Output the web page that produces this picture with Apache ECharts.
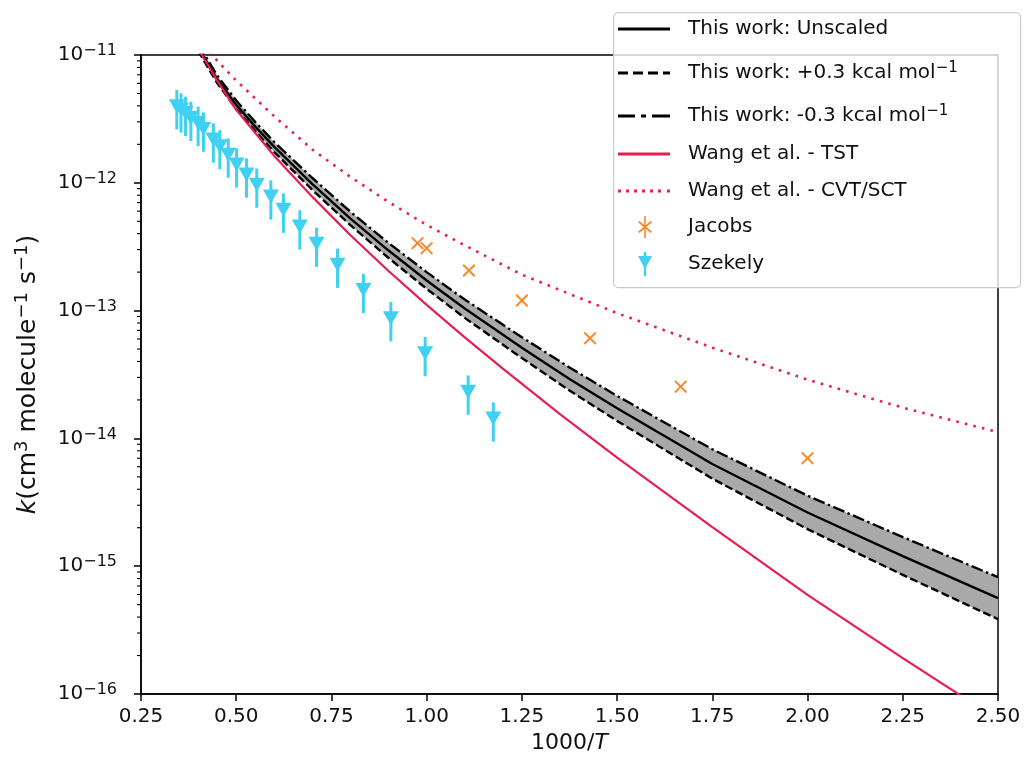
<!DOCTYPE html>
<html>
<head>
<meta charset="utf-8">
<title>k vs 1000/T</title>
<script src="https://cdn.jsdelivr.net/npm/echarts@6.0.0/dist/echarts.min.js"></script>
<style>
  html, body { margin: 0; padding: 0; background: #fff; }
  #chart { width: 1026px; height: 767px; }
</style>
</head>
<body>
<div id="chart"></div>
<script>
// ---- data ----
var xTicks = [0.25, 0.50, 0.75, 1.00, 1.25, 1.50, 1.75, 2.00, 2.25, 2.50];
var yExponents = [-16, -15, -14, -13, -12, -11];

// this work: rate constants on a common 1000/T grid
var calcX = [0.40, 0.45, 0.50, 0.55, 0.60, 0.70, 0.80, 0.90, 1.00, 1.10, 1.25, 1.375, 1.50, 1.75, 2.00, 2.25, 2.50];
var unscaledK = [1.15e-11, 6.46e-12, 4.07e-12, 2.75e-12, 1.91e-12, 9.77e-13, 5.25e-13, 2.95e-13, 1.72e-13,
                 1.04e-13, 5.13e-14, 2.92e-14, 1.72e-14, 6.31e-15, 2.63e-15, 1.20e-15, 5.62e-16];
var plusK = [1.08e-11, 6.03e-12, 3.78e-12, 2.54e-12, 1.74e-12, 8.79e-13, 4.66e-13, 2.58e-13, 1.48e-13,
             8.77e-14, 4.25e-14, 2.37e-14, 1.37e-14, 4.84e-15, 1.95e-15, 8.55e-16, 3.85e-16];
var minusK = [1.22e-11, 6.92e-12, 4.40e-12, 2.99e-12, 2.08e-12, 1.09e-12, 5.92e-13, 3.38e-13, 2.00e-13,
              1.22e-13, 6.19e-14, 3.59e-14, 2.15e-14, 8.22e-15, 3.56e-15, 1.69e-15, 8.20e-16];

// Wang et al.
var tstX = [0.40, 0.45, 0.50, 0.60, 0.70, 0.80, 0.90, 1.00, 1.10, 1.20, 1.35, 1.50, 1.75, 2.00, 2.25, 2.50];
var tstK = [1.12e-11, 6.31e-12, 3.72e-12, 1.62e-12, 7.76e-13, 3.89e-13, 2.04e-13, 1.11e-13, 6.17e-14,
            3.51e-14, 1.55e-14, 7.08e-15, 2.02e-15, 5.96e-16, 1.91e-16, 6.3e-17];
var cvtX = [0.40, 0.45, 0.50, 0.60, 0.70, 0.80, 0.90, 1.00, 1.10, 1.25, 1.50, 1.75, 2.00, 2.25, 2.50];
var cvtK = [1.33e-11, 9.02e-12, 6.31e-12, 3.31e-12, 1.82e-12, 1.11e-12, 7.08e-13, 4.68e-13, 3.24e-13,
            1.91e-13, 9.55e-14, 5.13e-14, 2.88e-14, 1.74e-14, 1.12e-14];

// experiments
var jacobsX = [0.976, 1.000, 1.111, 1.250, 1.429, 1.667, 2.000];
var jacobsK = [3.37e-13, 3.08e-13, 2.06e-13, 1.20e-13, 6.08e-14, 2.54e-14, 7.0e-15];
var szekelyX = [0.344, 0.355, 0.367, 0.381, 0.400, 0.414, 0.440, 0.457, 0.479, 0.501, 0.527,
                0.554, 0.591, 0.624, 0.667, 0.711, 0.766, 0.834, 0.906, 0.996, 1.109, 1.175];
var szekelyK = [3.97e-12, 3.74e-12, 3.52e-12, 3.22e-12, 2.94e-12, 2.65e-12, 2.18e-12, 1.93e-12, 1.66e-12,
                1.39e-12, 1.16e-12, 9.65e-13, 7.80e-13, 6.15e-13, 4.55e-13, 3.33e-13, 2.28e-13, 1.45e-13,
                8.70e-14, 4.64e-14, 2.32e-14, 1.43e-14];
var szekelyRelErr = 0.34;   // error bars are about +-34 %

// ---- styling ----
var FONT = 'DejaVu Sans';
var RED = '#e91e50';
var ORANGE = '#f58b2e';
var CYAN = '#40d0f2';
var NAMES = ['This work: Unscaled', 'This work: +0.3 kcal mol-1', 'This work: -0.3 kcal mol-1',
             'Wang et al. - TST', 'Wang et al. - CVT/SCT', 'Jacobs', 'Szekely'];

function pairs(xs, ys) {
  return xs.map(function (x, i) { return [x, ys[i]]; });
}

var minorTicks = [];
yExponents.slice(0, -1).forEach(function (e) {
  for (var m = 2; m <= 9; m++) minorTicks.push([0.25, m * Math.pow(10, e)]);
});

var xMark = 'path://M0,1.3L1.3,0L6,4.7L10.7,0L12,1.3L7.3,6L12,10.7L10.7,12L6,7.3L1.3,12L0,10.7L4.7,6Z';

function rich(size, supSize, lh, supLh) {
  return {
    n: { fontFamily: FONT, fontSize: size, color: '#111', lineHeight: lh },
    i: { fontFamily: FONT, fontSize: size, color: '#111', lineHeight: lh, fontStyle: 'italic' },
    s: { fontFamily: FONT, fontSize: supSize, color: '#111', lineHeight: supLh, verticalAlign: 'top' }
  };
}
var legendRich = rich(20, 15, 24, 10);

var legendRows = [
  { text: '{n|This work: Unscaled}', icon: 'path://M0,0H52V3H0Z', color: '#000', left: 618, w: 52, h: 3, pad: 13 },
  { text: '{n|This work: +0.3 kcal mol}{s|\u22121}',
    icon: 'path://M0,0H10V3H0Z M15,0H25V3H15Z M30,0H40V3H30Z M45,0H52V3H45Z', color: '#000', left: 618, w: 52, h: 3, pad: 13 },
  { text: '{n|This work: -0.3 kcal mol}{s|\u22121}',
    icon: 'path://M0,0H17V3H0Z M23,0H28V3H23Z M34,0H52V3H34Z', color: '#000', left: 618, w: 52, h: 3, pad: 13 },
  { text: '{n|Wang et al. - TST}', icon: 'path://M0,0H52V3H0Z', color: RED, left: 618, w: 52, h: 3, pad: 13 },
  { text: '{n|Wang et al. - CVT/SCT}',
    icon: 'path://M0,0H3V3H0Z M8,0H11V3H8Z M16,0H19V3H16Z M24,0H27V3H24Z M32,0H35V3H32Z M40,0H43V3H40Z M49,0H52V3H49Z',
    color: RED, left: 618, w: 52, h: 3, pad: 13 },
  { text: '{n|Jacobs}',
    icon: 'path://M1,6.3L2.3,5L7,9.7L11.7,5L13,6.3L8.3,11L13,15.7L11.7,17L7,12.3L2.3,17L1,15.7L5.7,11Z M6.3,0H7.7V22H6.3Z',
    color: ORANGE, left: 638, w: 14, h: 22, pad: 31 },
  { text: '{n|Szekely}', icon: 'path://M0,4H14L7,17Z M5.8,0H8.2V24H5.8Z', color: CYAN, left: 638, w: 14, h: 24, pad: 31 }
];
var rowCenters = [29, 73, 116, 154, 191, 227, 264];

var legends = legendRows.map(function (r, i) {
  return {
    show: true, orient: 'vertical', left: r.left, top: rowCenters[i] - 12,
    padding: 0, itemGap: 0, itemWidth: r.w, itemHeight: r.h, selectedMode: false,
    symbolKeepAspect: false, z: 11,
    data: [{ name: NAMES[i], icon: r.icon, itemStyle: { color: r.color, borderWidth: 0 } }],
    formatter: function () { return r.text; },
    textStyle: { fontFamily: FONT, fontSize: 20, color: '#111', lineHeight: 24,
                 padding: [0, 0, 0, r.pad], rich: legendRich }
  };
});

var chart = echarts.init(document.getElementById('chart'));
var option = {
  animation: false,
  backgroundColor: '#fff',
  textStyle: { fontFamily: FONT },
  grid: { left: 141, right: 28, top: 55, bottom: 73, containLabel: false, outerBoundsMode: 'none',
          show: true, borderColor: '#000', borderWidth: 1.5, backgroundColor: 'transparent' },
  legend: legends,
  graphic: [{
    type: 'rect', left: 613, top: 12, z: 10, silent: true,
    shape: { width: 407, height: 275, r: 5 },
    style: { fill: 'rgba(255,255,255,0.8)', stroke: '#cccccc', lineWidth: 1.2 }
  }],
  xAxis: {
    type: 'value', min: 0.25, max: 2.5, interval: 0.25,
    name: '{n|1000/}{i|T}', nameLocation: 'middle', nameGap: 35,
    nameTextStyle: { rich: rich(22, 16, 26, 12) },
    axisLine: { show: true, onZero: false, lineStyle: { color: '#000', width: 1.5 } },
    axisTick: { show: true, length: 7, lineStyle: { color: '#000', width: 1.5 } },
    axisLabel: { show: true, margin: 13, fontFamily: FONT, fontSize: 20, color: '#111',
                 showMinLabel: true, showMaxLabel: true,
                 formatter: function (v) { return xTicks.indexOf(+v.toFixed(2)) >= 0 ? v.toFixed(2) : ''; } },
    splitLine: { show: false }
  },
  yAxis: {
    type: 'log', logBase: 10, min: 1e-16, max: 1e-11,
    name: '{i|k}{n|(cm}{s|3}{n| molecule}{s|\u22121}{n| s}{s|\u22121}{n|)}',
    nameLocation: 'middle', nameRotate: 90, nameGap: 98,
    nameTextStyle: { rich: rich(25, 18, 30, 14) },
    axisLine: { show: true, lineStyle: { color: '#000', width: 1.5 } },
    axisTick: { show: true, length: 7, lineStyle: { color: '#000', width: 1.5 } },
    axisLabel: { show: true, margin: 24, showMinLabel: true, showMaxLabel: true,
                 formatter: function (v) {
                   var e = Math.round(Math.log10(v));
                   if (yExponents.indexOf(e) < 0) return '';
                   return '{n|10}{s|\u2212' + (-e) + '}';
                 },
                 rich: rich(20, 16, 24, 10) },
    splitLine: { show: false }
  },
  series: [
    {
      // grey band between the +-0.3 kcal/mol curves
      type: 'custom', name: 'band', silent: true, clip: true, z: 1,
      data: [[1, 1e-13]],
      renderItem: function (params, api) {
        var pts = [];
        for (var i = 0; i < calcX.length; i++) pts.push(api.coord([calcX[i], minusK[i]]));
        for (var j = calcX.length - 1; j >= 0; j--) pts.push(api.coord([calcX[j], plusK[j]]));
        return { type: 'polygon', shape: { points: pts }, style: { fill: '#a9a9a9' } };
      }
    },
    { type: 'line', name: NAMES[0], data: pairs(calcX, unscaledK), symbol: 'none', z: 3, silent: true,
      color: '#000', lineStyle: { color: '#000', width: 2.4 } },
    { type: 'line', name: NAMES[1], data: pairs(calcX, plusK), symbol: 'none', z: 3, silent: true,
      color: '#000', lineStyle: { color: '#000', width: 2.4, type: [8, 3.5] } },
    { type: 'line', name: NAMES[2], data: pairs(calcX, minusK), symbol: 'none', z: 3, silent: true,
      color: '#000', lineStyle: { color: '#000', width: 2.4, type: [12, 3.5, 2.5, 3.5] } },
    { type: 'line', name: NAMES[3], data: pairs(tstX, tstK), symbol: 'none', z: 4, silent: true,
      color: RED, lineStyle: { color: RED, width: 2.2 } },
    { type: 'line', name: NAMES[4], data: pairs(cvtX, cvtK), symbol: 'none', z: 4, silent: true,
      color: RED, lineStyle: { color: RED, width: 2.6, type: [2.6, 6.2] } },
    { type: 'scatter', name: NAMES[5], data: pairs(jacobsX, jacobsK), symbol: xMark, symbolSize: 13,
      z: 6, silent: true, itemStyle: { color: ORANGE, borderWidth: 0, opacity: 1 } },
    {
      type: 'custom', name: 'szekely-err', silent: true, z: 5,
      data: szekelyX.map(function (x, i) {
        return [x, szekelyK[i] * (1 - szekelyRelErr), szekelyK[i] * (1 + szekelyRelErr)];
      }),
      encode: { x: 0, y: [1, 2] },
      renderItem: function (params, api) {
        var lo = api.coord([api.value(0), api.value(1)]);
        var hi = api.coord([api.value(0), api.value(2)]);
        return { type: 'line', shape: { x1: lo[0], y1: lo[1], x2: hi[0], y2: hi[1] },
                 style: { stroke: CYAN, lineWidth: 3 } };
      }
    },
    { type: 'scatter', name: NAMES[6], data: pairs(szekelyX, szekelyK), symbol: 'triangle', symbolRotate: 180,
      symbolSize: [16, 14], z: 6, silent: true, itemStyle: { color: CYAN, borderWidth: 0, opacity: 1 } },
    {
      // log minor ticks on the y axis
      type: 'custom', name: 'minor-ticks', silent: true, z: 2,
      data: minorTicks,
      renderItem: function (params, api) {
        var p = api.coord([api.value(0), api.value(1)]);
        var x0 = params.coordSys.x;
        return { type: 'line', shape: { x1: x0 - 4, y1: p[1], x2: x0, y2: p[1] },
                 style: { stroke: '#000', lineWidth: 1.1 } };
      }
    }
  ]
};
chart.setOption(option);
</script>
</body>
</html>
